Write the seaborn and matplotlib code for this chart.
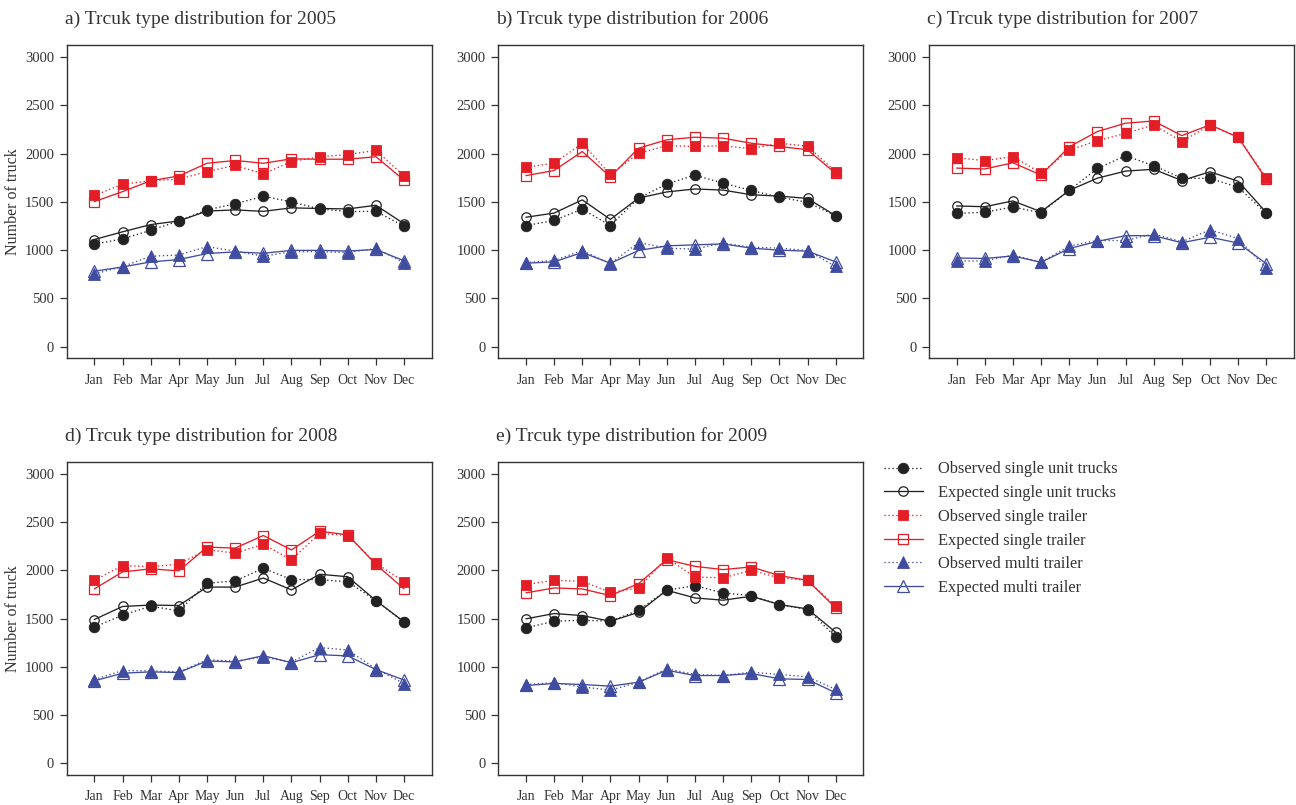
import numpy as np
import pandas as pd
import matplotlib
matplotlib.use("Agg")
import matplotlib.pyplot as plt
import seaborn as sns

months = ["Jan", "Feb", "Mar", "Apr", "May", "Jun",
          "Jul", "Aug", "Sep", "Oct", "Nov", "Dec"]
years = [2005, 2006, 2007, 2008, 2009]
panel_tags = ["a)", "b)", "c)", "d)", "e)"]

# Monthly truck counts per year: observed / expected, by truck type
obs_single_unit = {
    2005: [1062, 1117, 1205, 1303, 1417, 1480, 1558, 1500, 1428, 1400, 1402, 1248],
    2006: [1255, 1308, 1425, 1255, 1540, 1684, 1778, 1694, 1619, 1548, 1496, 1357],
    2007: [1380, 1393, 1447, 1388, 1619, 1846, 1978, 1875, 1746, 1743, 1652, 1380],
    2008: [1412, 1535, 1628, 1580, 1866, 1890, 2021, 1904, 1904, 1880, 1686, 1462],
    2009: [1404, 1472, 1483, 1472, 1586, 1793, 1841, 1766, 1738, 1645, 1593, 1311],
}
exp_single_unit = {
    2005: [1110, 1190, 1265, 1303, 1405, 1417, 1402, 1438, 1432, 1427, 1465, 1273],
    2006: [1341, 1384, 1521, 1319, 1540, 1603, 1634, 1622, 1574, 1560, 1536, 1357],
    2007: [1458, 1450, 1510, 1398, 1619, 1746, 1819, 1838, 1721, 1812, 1714, 1390],
    2008: [1490, 1625, 1640, 1635, 1826, 1826, 1920, 1797, 1959, 1933, 1686, 1466],
    2009: [1497, 1552, 1531, 1472, 1565, 1793, 1714, 1690, 1731, 1645, 1600, 1358],
}
obs_single_trailer = {
    2005: [1567, 1682, 1719, 1736, 1813, 1879, 1790, 1917, 1968, 1990, 2034, 1768],
    2006: [1858, 1901, 2105, 1785, 2002, 2084, 2074, 2082, 2051, 2108, 2077, 1812],
    2007: [1958, 1927, 1970, 1798, 2036, 2134, 2209, 2298, 2125, 2295, 2169, 1750],
    2008: [1895, 2049, 2037, 2063, 2215, 2177, 2270, 2108, 2383, 2360, 2073, 1880],
    2009: [1852, 1896, 1886, 1772, 1817, 2128, 1931, 1921, 2000, 1921, 1896, 1628],
}
exp_single_trailer = {
    2005: [1503, 1606, 1719, 1768, 1900, 1929, 1900, 1946, 1942, 1942, 1968, 1725],
    2006: [1772, 1825, 2022, 1760, 2056, 2143, 2170, 2160, 2108, 2074, 2040, 1795],
    2007: [1850, 1841, 1905, 1778, 2070, 2229, 2315, 2338, 2186, 2298, 2169, 1733],
    2008: [1807, 1983, 2015, 1994, 2240, 2230, 2360, 2211, 2405, 2367, 2060, 1807],
    2009: [1766, 1817, 1807, 1738, 1862, 2110, 2041, 2007, 2035, 1945, 1896, 1610],
}
obs_multi_trailer = {
    2005: [754, 829, 937, 950, 1037, 990, 937, 984, 984, 975, 1019, 869],
    2006: [872, 893, 996, 859, 1079, 1021, 1011, 1073, 1031, 1021, 996, 831],
    2007: [888, 888, 950, 875, 1043, 1100, 1100, 1169, 1086, 1212, 1120, 815],
    2008: [868, 962, 958, 948, 1072, 1061, 1101, 1050, 1200, 1174, 979, 826],
    2009: [817, 835, 793, 758, 841, 980, 921, 910, 945, 921, 897, 766],
}
exp_multi_trailer = {
    2005: [782, 826, 878, 903, 965, 982, 968, 998, 998, 991, 1007, 890],
    2006: [865, 879, 976, 865, 996, 1045, 1055, 1065, 1021, 1000, 990, 879],
    2007: [919, 914, 940, 875, 1017, 1091, 1150, 1150, 1077, 1134, 1074, 860],
    2008: [855, 934, 948, 941, 1061, 1051, 1116, 1043, 1126, 1113, 972, 863],
    2009: [807, 828, 817, 800, 841, 965, 910, 910, 931, 876, 869, 731],
}

y_ticks = [0, 500, 1000, 1500, 2000, 2500, 3000]

BLACK = "#222222"
RED = "#e41e26"
BLUE = "#3f4ca0"
TEXT = "#333333"

# (label, data, color, marker, filled, dotted, markersize)
series = [
    ("Observed single unit trucks", obs_single_unit, BLACK, "o", True, True, 7.6),
    ("Expected single unit trucks", exp_single_unit, BLACK, "o", False, False, 6.8),
    ("Observed single trailer", obs_single_trailer, RED, "s", True, True, 6.8),
    ("Expected single trailer", exp_single_trailer, RED, "s", False, False, 6.8),
    ("Observed multi trailer", obs_multi_trailer, BLUE, "^", True, True, 8.2),
    ("Expected multi trailer", exp_multi_trailer, BLUE, "^", False, False, 8.2),
]

sns.set_style("ticks")
plt.rcParams["font.family"] = ["Liberation Serif", "DejaVu Serif"]
plt.rcParams["axes.edgecolor"] = "#333333"
plt.rcParams["axes.linewidth"] = 1.0

fig = plt.figure(figsize=(12.96, 8.05), dpi=100)

W = 0.2816
H = 0.3892
lefts = [0.0515, 0.3845, 0.7168, 0.0515, 0.3845]
bottoms = [0.5549, 0.5549, 0.5549, 0.0373, 0.0373]

x_idx = np.arange(len(months))
legend_handles = None

for i, yr in enumerate(years):
    ax = fig.add_axes([lefts[i], bottoms[i], W, H])
    for label, data, color, marker, filled, dotted, ms in series:
        df = pd.DataFrame({"month": x_idx, "count": data[yr]})
        sns.lineplot(
            data=df, x="month", y="count", ax=ax,
            color=color, linewidth=0.95,
            linestyle=(0, (1, 2)) if dotted else "-",
            marker=marker, markersize=ms,
            markerfacecolor=color if filled else "none",
            markeredgecolor=color, markeredgewidth=0.9 if not filled else 0.6,
            label=label,
        )
    ax.set_xlim(-0.98, 11.98)
    ax.set_ylim(-120, 3125)
    ax.set_xticks(x_idx)
    ax.set_xticklabels(months)
    ax.set_yticks(y_ticks)
    ax.set_yticklabels([str(v) for v in y_ticks])
    ax.tick_params(axis="both", direction="out", length=5, width=0.9,
                   color="#333333", labelcolor=TEXT)
    ax.tick_params(axis="x", pad=6, labelsize=10)
    ax.tick_params(axis="y", pad=4, labelsize=10.5)
    ax.set_xlabel("")
    if i in (0, 3):
        ax.set_ylabel("Number of truck", fontsize=11.5, color=TEXT)
        ax.yaxis.set_label_coords(-0.125, 0.5)
    else:
        ax.set_ylabel("")
    for side in ["top", "right", "left", "bottom"]:
        ax.spines[side].set_visible(True)
    ax.set_title(f"{panel_tags[i]} Trcuk type distribution for {yr}",
                 loc="left", fontsize=14, color=TEXT, pad=15, x=-0.005)
    if legend_handles is None:
        legend_handles, legend_labels = ax.get_legend_handles_labels()
    if ax.get_legend() is not None:
        ax.get_legend().remove()

fig.legend(legend_handles, legend_labels, loc="upper left",
           bbox_to_anchor=(0.6755, 0.437), frameon=False,
           fontsize=11.8, handlelength=2.4, handletextpad=0.9,
           labelspacing=0.47, borderpad=0, labelcolor=TEXT)

fig.savefig("out.png", dpi=100)
